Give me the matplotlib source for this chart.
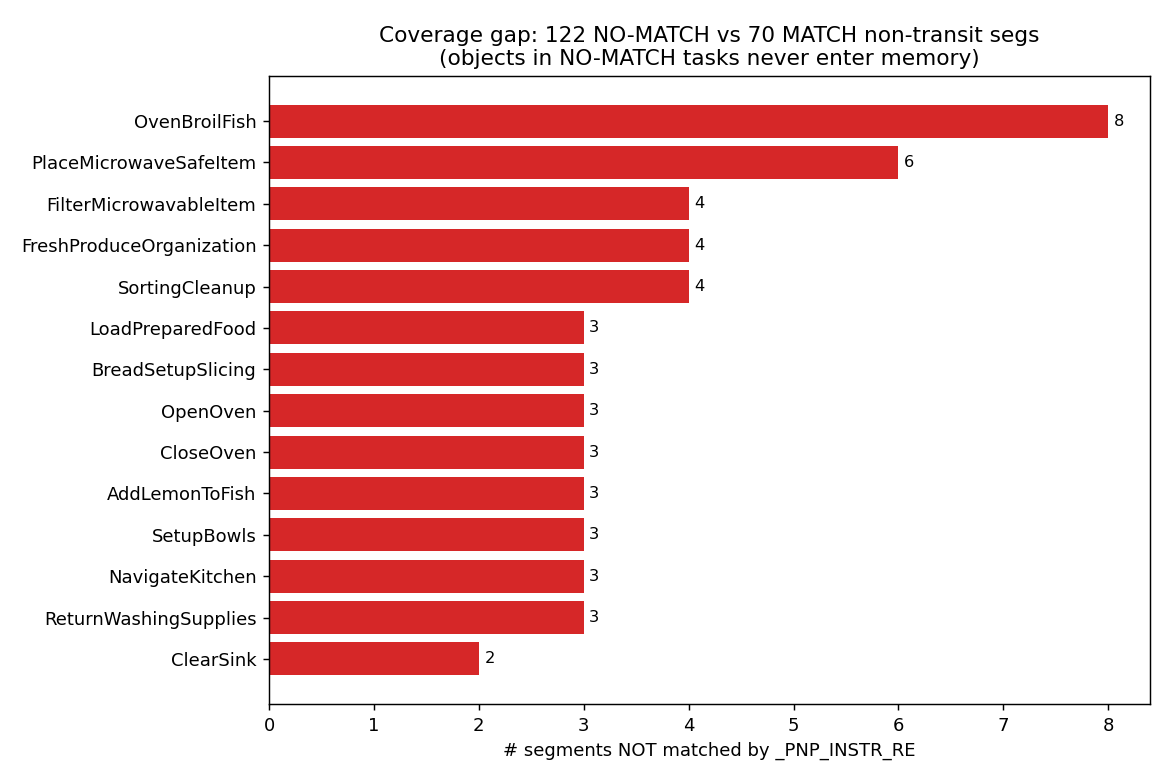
import matplotlib
matplotlib.use("Agg")
import matplotlib.pyplot as plt

tasks = ["OvenBroilFish", "PlaceMicrowaveSafeItem", "FilterMicrowavableItem",
         "FreshProduceOrganization", "SortingCleanup", "LoadPreparedFood",
         "BreadSetupSlicing", "OpenOven", "CloseOven", "AddLemonToFish",
         "SetupBowls", "NavigateKitchen", "ReturnWashingSupplies", "ClearSink"]
counts = [8, 6, 4, 4, 4, 3, 3, 3, 3, 3, 3, 3, 3, 2]

fig, ax = plt.subplots(figsize=(9, 6), dpi=130)
bars = ax.barh(tasks[::-1], counts[::-1], color="#d62728")
ax.bar_label(bars, padding=3, fontsize=9)
ax.set_xlabel("# segments NOT matched by _PNP_INSTR_RE")
ax.set_title("Coverage gap: 122 NO-MATCH vs 70 MATCH non-transit segs\n"
             "(objects in NO-MATCH tasks never enter memory)")
fig.subplots_adjust(left=0.23, right=0.983, top=0.9026, bottom=0.0974)
fig.savefig("out.png")
